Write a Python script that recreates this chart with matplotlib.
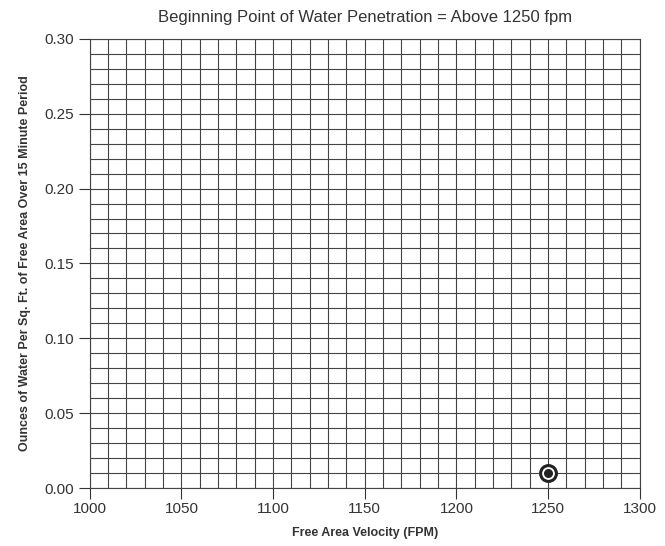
import numpy as np
import matplotlib
matplotlib.use("Agg")
import matplotlib.pyplot as plt

plt.rcParams['font.family'] = ['Liberation Sans', 'DejaVu Sans']

# data
velocity = [1250]
ounces = [0.01]
x_ticks = [1000, 1050, 1100, 1150, 1200, 1250, 1300]
y_ticks = [0.00, 0.05, 0.10, 0.15, 0.20, 0.25, 0.30]

fig = plt.figure(figsize=(6.65, 5.46), dpi=100)
ax = fig.add_axes([0.135, 0.106, 0.827, 0.823])

ax.set_xlim(1000, 1300)
ax.set_ylim(0, 0.30)

# fine grid every 10 fpm / 0.01 oz
for xv in np.arange(1000, 1301, 10):
    ax.axvline(xv, color='#444444', lw=0.8, zorder=1)
for yv in np.arange(0, 0.3001, 0.01):
    ax.axhline(yv, color='#444444', lw=0.8, zorder=1)

ax.scatter(velocity, ounces, s=130, facecolor='white', edgecolor='#222222',
           linewidths=2.2, zorder=3)
ax.scatter(velocity, ounces, s=30, color='#222222', zorder=4)

ax.set_xticks(x_ticks)
ax.set_xticklabels([str(v) for v in x_ticks])
ax.set_yticks(y_ticks)
ax.set_yticklabels([f"{v:.2f}" for v in y_ticks])
ax.tick_params(axis='both', labelsize=11, colors='#333333', length=8, width=0.8,
               direction='out')
ax.tick_params(axis='x', pad=2)
ax.tick_params(axis='y', pad=3)

for s in ax.spines.values():
    s.set_color('#444444')
    s.set_linewidth(0.8)

ax.set_title("Beginning Point of Water Penetration = Above 1250 fpm",
             fontsize=12, color='#333333', pad=12)
ax.set_xlabel("Free Area Velocity (FPM)", fontsize=9, fontweight='bold',
              color='#333333', labelpad=8)
ax.set_ylabel("Ounces of Water Per Sq. Ft. of Free Area Over 15 Minute Period",
              fontsize=9, fontweight='bold', color='#333333', labelpad=10)

fig.savefig("out.png", dpi=100)
